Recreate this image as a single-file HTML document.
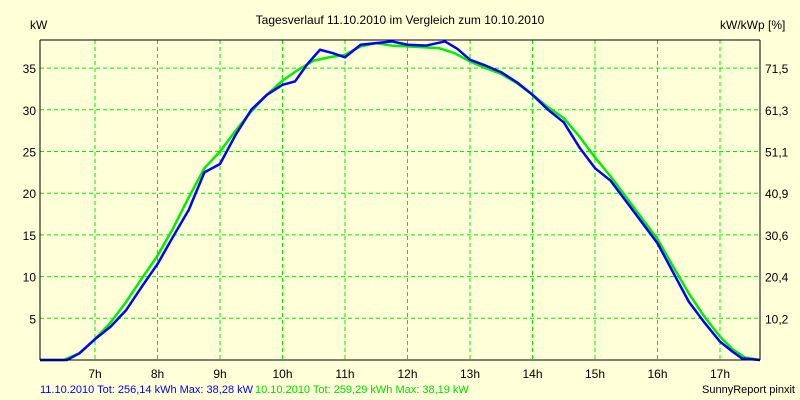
<!DOCTYPE html>
<html><head><meta charset="utf-8"><style>
body{margin:0;background:#ffffd8;}
svg{display:block;font-family:"Liberation Sans",sans-serif;}
</style></head><body>
<svg id="c" width="800" height="400">
<rect width="800" height="400" fill="#ffffd8"/>
<text x="400" y="24" font-size="12" text-anchor="middle">Tagesverlauf 11.10.2010 im Vergleich zum 10.10.2010</text>
<text x="30" y="29" font-size="12">kW</text>
<text x="720" y="29" font-size="12">kW/kWp [%]</text>
<g id="grid"></g>
<g id="series"></g>
<line x1="40" y1="40" x2="760" y2="40" stroke="#000"/>
<line x1="40" y1="40" x2="40" y2="360" stroke="#000"/>
<line x1="760" y1="40" x2="760" y2="360" stroke="#000"/>
<line x1="40" y1="360" x2="760" y2="360" stroke="#000"/>
<text x="40" y="393" font-size="11"><tspan fill="#0000ff">11.10.2010 Tot: 256,14 kWh Max: 38,28 kW</tspan><tspan fill="#00dd00" dx="2">10.10.2010 Tot: 259,29 kWh Max: 38,19 kW</tspan></text>
<text x="795" y="393" font-size="11" text-anchor="end">SunnyReport pinxit</text>
</svg>
<script>
const hourTicks=[7,8,9,10,11,12,13,14,15,16,17];
const kwTicks=[5,10,15,20,25,30,35];
const pctLabels=["10,2","20,4","30,6","40,9","51,1","61,3","71,5"];
const blueTimes=[6.12,6.55,6.75,7,7.25,7.5,7.75,8,8.25,8.5,8.75,9,9.25,9.5,9.75,10,10.2,10.4,10.6,10.8,11,11.25,11.5,11.75,12,12.3,12.6,12.8,13,13.25,13.5,13.75,14,14.25,14.5,14.75,15,15.25,15.5,15.75,16,16.25,16.5,16.75,17,17.2,17.35,17.64];
const blueVals=[0,0,0.8,2.5,4,6,8.8,11.5,14.8,18,22.5,23.5,27,30,31.8,33,33.4,35.5,37.2,36.8,36.3,37.8,38,38.2,37.8,37.7,38.2,37.3,36,35.3,34.5,33.3,31.8,30,28.5,25.5,23,21.5,19,16.5,14,10.5,7,4.5,2.2,1,0.2,0];
const greenTimes=[6.12,6.5,6.75,7,7.25,7.5,7.75,8,8.25,8.5,8.75,9,9.25,9.5,9.75,10,10.25,10.5,10.75,11,11.25,11.5,11.75,12,12.25,12.5,12.75,13,13.25,13.5,13.75,14,14.25,14.5,14.75,15,15.25,15.5,15.75,16,16.25,16.5,16.75,17,17.2,17.4,17.64];
const greenVals=[0,0,0.8,2.5,4.5,7,9.8,12.5,15.8,19.5,23,25,27.5,29.8,31.8,33.5,34.8,35.9,36.3,36.6,37.6,38,37.7,37.6,37.5,37.4,36.8,35.8,35,34.3,33.2,31.8,30.3,29,26.8,24.3,22,19.5,17,14.5,11.2,8,5.2,2.8,1.3,0.3,0];
const NS='http://www.w3.org/2000/svg';
const X=t=>95+(t-7)*62.5, Y=v=>360-v*8.34;
const svg=document.getElementById('c'),grid=document.getElementById('grid'),ser=document.getElementById('series');
function mk(tag,attrs,parent){const e=document.createElementNS(NS,tag);for(const k in attrs)e.setAttribute(k,attrs[k]);parent.appendChild(e);return e;}
hourTicks.forEach(h=>{
 const l=mk('line',{x1:X(h),x2:X(h),y1:40,y2:360,stroke:'#00ee00','stroke-dasharray':'4,3'},grid);
 
 
 const t=mk('text',{x:X(h),y:378,'font-size':12,'text-anchor':'middle'},svg);
 t.textContent=h+'h';
 
 
});
kwTicks.forEach((v,i)=>{
 const l=mk('line',{x1:40,x2:760,y1:Y(v),y2:Y(v),stroke:'#00ee00','stroke-dasharray':'4,3'},grid);
 
 
 const t=mk('text',{x:36,y:Y(v)+5,'font-size':12,'text-anchor':'end'},svg);
 t.textContent=v;
 
 
 const r=mk('text',{x:765,y:Y(v)+5,'font-size':12},svg);
 r.textContent=pctLabels[i];
 
 
});
function line(ts,vs,col,name){
 const p=mk('polyline',{points:ts.map((t,i)=>X(t)+','+Y(vs[i])).join(' '),fill:'none',stroke:col,'stroke-width':2.5,'stroke-linejoin':'round'},ser);
 
 
}
line(greenTimes,greenVals,'#00ee00','series-10-10-2010');
line(blueTimes,blueVals,'#0000ff','series-11-10-2010');
</script>
</body></html>
